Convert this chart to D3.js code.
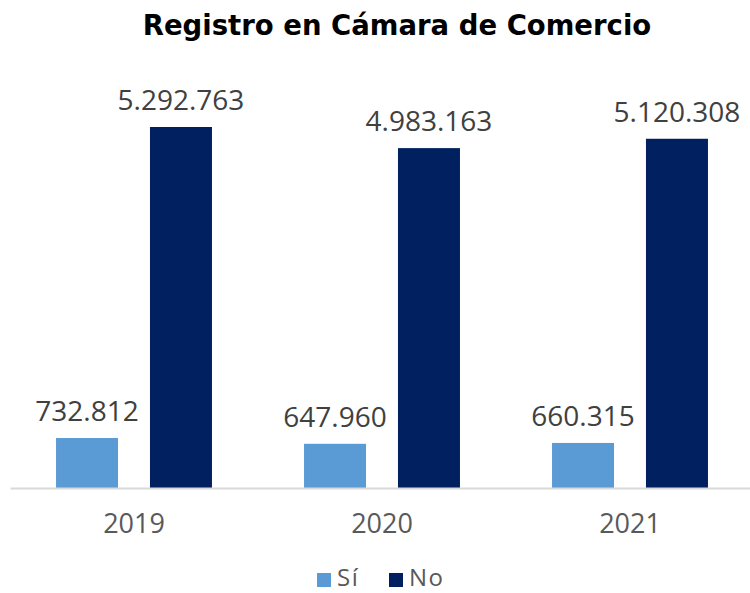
<!doctype html>
<html>
<head>
<meta charset="UTF-8">
<title>Registro en Cámara de Comercio</title>
<script src="https://d3js.org/d3.v7.min.js"></script>
<style>
  body { margin: 0; background: #fff; }
  text { font-family: "Open Sans", "Noto Sans", sans-serif; }
</style>
</head>
<body>
<script>
var years = ["2019", "2020", "2021"];
var series = ["Sí", "No"];
var si = [732812, 647960, 660315];
var no = [5292763, 4983163, 5120308];
var colors = ["#5B9BD5", "#002060"];

var w = 750, h = 593;
var base = 488;

var svg = d3.select("body").append("svg")
    .attr("width", w)
    .attr("height", h);

var fmt = d3.formatLocale({decimal: ",", thousands: ".", grouping: [3], currency: ["$", ""]}).format(",d");

var x0 = d3.scaleBand().domain(years).range([10, 754]);
var x1 = d3.scaleBand().domain(series).range([0, x0.bandwidth()]).paddingInner(0.34).paddingOuter(0.49);
var y = d3.scaleLinear().domain([0, 5292763]).range([base, 127]);

// title
svg.append("text")
    .attr("x", 397).attr("y", 35)
    .attr("text-anchor", "middle")
    .attr("font-size", 27.5).attr("font-weight", "bold")
    .style("font-family", "'DejaVu Sans', sans-serif")
    .attr("fill", "#000")
    .text("Registro en Cámara de Comercio");

var data = years.map(function(yr, i){
    return {year: yr, vals: [{s: "Sí", v: si[i]}, {s: "No", v: no[i]}]};
});

var g = svg.selectAll("g.cat").data(data).enter()
    .append("g").attr("class", "cat")
    .attr("transform", function(d){ return "translate(" + x0(d.year) + ",0)"; });

g.selectAll("rect").data(function(d){ return d.vals; }).enter()
    .append("rect")
    .attr("x", function(d){ return x1(d.s); })
    .attr("y", function(d){ return y(d.v); })
    .attr("width", x1.bandwidth())
    .attr("height", function(d){ return base - y(d.v); })
    .attr("fill", function(d, i){ return colors[i]; });

g.selectAll("text.val").data(function(d){ return d.vals; }).enter()
    .append("text").attr("class", "val")
    .attr("x", function(d){ return x1(d.s) + x1.bandwidth() / 2; })
    .attr("y", function(d){ return y(d.v) - 17; })
    .attr("text-anchor", "middle")
    .attr("font-size", 28)
    .attr("fill", "#404040")
    .text(function(d){ return fmt(d.v); });

// axis
var axis = svg.append("g").attr("transform", "translate(0," + base + ")")
    .call(d3.axisBottom(x0).tickSize(0).tickPadding(26));
axis.select(".domain").attr("stroke", "#d9d9d9").attr("stroke-width", 2);
axis.selectAll("text")
    .attr("font-size", 27)
    .attr("fill", "#595959")
    .attr("font-family", "'Open Sans', sans-serif");

// legend
var leg = svg.append("g").attr("transform", "translate(317,569)");
var items = leg.selectAll("g").data(series).enter().append("g")
    .attr("transform", function(d, i){ return "translate(" + (i * 72) + ",0)"; });
items.append("rect").attr("width", 14).attr("height", 14).attr("y", 4)
    .attr("fill", function(d, i){ return colors[i]; });
items.append("text").attr("x", 20).attr("y", 17)
    .attr("font-size", 24).attr("fill", "#595959")
    .style("letter-spacing", "1.5px")
    .text(function(d){ return d; });
</script>
</body>
</html>
